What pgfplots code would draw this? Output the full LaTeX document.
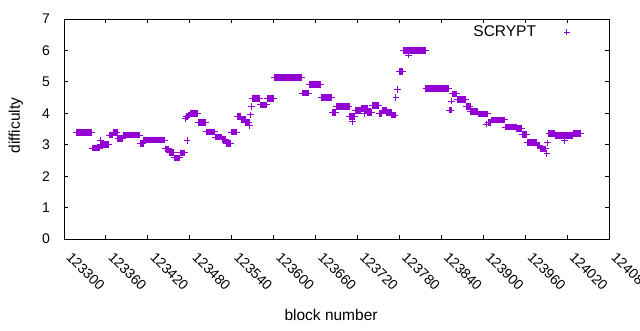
\documentclass[border=0pt]{standalone}
\usepackage{fontspec}
\setmainfont{Liberation Sans}
\usepackage{pgfplots}
\pgfplotsset{compat=1.18}
\definecolor{gpviolet}{RGB}{148,0,211}
\newcommand{\gpf}{\fontsize{14}{16}\selectfont}
\newcommand{\gpl}{\fontsize{15.5}{18}\selectfont}
\begin{document}
\begin{tikzpicture}
\path[use as bounding box] (-64pt,-91pt) rectangle (576pt,239pt);
\begin{axis}[
  at={(0pt,0pt)}, anchor=south west,
  scale only axis, width=545pt, height=220pt,
  xmin=123300, xmax=124080, ymin=0, ymax=7,
  xtick={123300,123360,123420,123480,123540,123600,123660,123720,123780,123840,123900,123960,124020,124080},
  xticklabels={123300,123360,123420,123480,123540,123600,123660,123720,123780,123840,123900,123960,124020,124080},
  ytick={0,1,2,3,4,5,6,7},
  scaled x ticks=false,
  /pgf/number format/assume math mode=true,
  tick align=inside, tick pos=both, major tick length=4pt,
  axis line style={line width=0.9pt},
  every tick/.style={black, line width=0.9pt},
  xticklabel style={font=\gpf, inner sep=0pt, anchor=west, xshift=5pt, yshift=-15.5pt, rotate=-45},
  yticklabel style={font=\gpf, inner sep=0pt, anchor=east, xshift=-14pt},
  xlabel={block number}, ylabel={difficulty},
  every axis x label/.style={at={(axis description cs:0.49,-0.3455)}, anchor=center, font=\gpl},
  every axis y label/.style={at={(axis description cs:-0.0881,0.515)}, rotate=90, anchor=center, font=\gpl},
  legend style={draw=none, fill=none, at={(axis description cs:0.9435,0.941)}, anchor=east, inner sep=0pt, font=\gpl},
  legend plot pos=right,
  legend image code/.code={\path[draw=none,fill=none] (0pt,0pt) -- (40pt,0pt); \draw plot coordinates {(28.8pt,0pt)};},
]
\addplot[only marks, mark=+, mark size=3.3pt, color=gpviolet, mark options={line width=0.9pt}] coordinates {
(123318,3.39)(123319,3.39)(123320,3.39)(123321,3.39)(123322,3.39)(123323,3.39)(123324,3.39)(123325,3.39)(123326,3.39)(123327,3.39)(123328,3.39)(123329,3.39)
(123330,3.39)(123331,3.39)(123332,3.39)(123333,3.39)(123334,3.39)(123335,3.39)(123336,3.39)(123337,3.39)(123338,3.39)(123339,3.39)(123340,3.39)
(123341,2.89)(123342,2.89)(123343,2.89)(123344,2.89)(123345,2.89)(123346,2.89)(123347,2.89)(123348,2.89)(123349,2.89)(123350,2.89)(123351,2.89)
(123352,3.14)
(123352,3.01)(123353,3.01)(123354,3.01)(123355,3.01)(123356,3.01)(123357,3.01)(123358,3.01)(123359,3.01)(123360,3.01)(123361,3.01)(123362,3.01)(123363,3.01)(123364,3.01)
(123365,3.31)(123366,3.31)(123367,3.31)(123368,3.31)(123369,3.31)(123370,3.31)
(123371,3.38)(123372,3.38)(123373,3.38)(123374,3.38)(123375,3.38)(123376,3.38)
(123377,3.20)(123378,3.20)(123379,3.20)(123380,3.20)(123381,3.20)(123382,3.20)(123383,3.20)(123384,3.20)
(123385,3.31)(123386,3.31)(123387,3.31)(123388,3.31)(123389,3.31)(123390,3.31)(123391,3.31)(123392,3.31)(123393,3.31)(123394,3.31)(123395,3.31)(123396,3.31)
(123397,3.31)(123398,3.31)(123399,3.31)(123400,3.31)(123401,3.31)(123402,3.31)(123403,3.31)(123404,3.31)(123405,3.31)(123406,3.31)(123407,3.31)(123408,3.31)
(123409,3.04)(123410,3.04)(123411,3.04)(123412,3.04)(123413,3.04)
(123414,3.15)(123415,3.15)(123416,3.15)(123417,3.15)(123418,3.15)(123419,3.15)(123420,3.15)(123421,3.15)(123422,3.15)(123423,3.15)(123424,3.15)
(123425,3.15)(123426,3.15)(123427,3.15)(123428,3.15)(123429,3.15)(123430,3.15)(123431,3.15)(123432,3.15)(123433,3.15)(123434,3.15)(123435,3.15)
(123436,3.15)(123437,3.15)(123438,3.15)(123439,3.15)(123440,3.15)(123441,3.15)(123442,3.15)(123443,3.15)(123444,3.15)
(123445,2.87)(123446,2.87)(123447,2.87)(123448,2.87)(123449,2.87)(123450,2.87)
(123451,2.76)(123452,2.76)(123453,2.76)(123454,2.76)(123455,2.76)(123456,2.76)(123457,2.76)
(123458,2.58)(123459,2.58)(123460,2.58)(123461,2.58)(123462,2.58)(123463,2.58)(123464,2.58)(123465,2.58)
(123466,2.74)(123467,2.74)(123468,2.74)(123469,2.74)(123470,2.74)(123471,2.74)(123472,2.74)(123473,2.74)
(123474,3.82)(123475,3.90)(123476,3.90)(123477,3.90)(123476,3.14)(123478,3.94)(123479,3.94)(123480,3.94)
(123481,3.99)(123482,3.99)(123483,3.99)(123484,3.99)(123485,3.99)(123486,3.99)(123487,3.99)(123488,3.99)(123489,3.99)(123490,3.99)(123491,3.99)
(123492,3.71)(123493,3.71)(123494,3.71)(123495,3.71)(123496,3.71)(123497,3.71)(123498,3.71)(123499,3.71)(123500,3.71)(123501,3.71)(123502,3.71)(123503,3.71)
(123504,3.41)(123505,3.41)(123506,3.41)(123507,3.41)(123508,3.41)(123509,3.41)(123510,3.41)(123511,3.41)(123512,3.41)(123513,3.41)(123514,3.41)(123515,3.41)(123516,3.41)
(123517,3.24)(123518,3.24)(123519,3.24)(123520,3.24)(123521,3.24)(123522,3.24)(123523,3.24)(123524,3.24)(123525,3.24)(123526,3.24)
(123527,3.17)(123528,3.17)(123529,3.17)(123530,3.17)(123531,3.17)
(123532,3.04)(123533,3.04)(123534,3.04)(123535,3.04)(123536,3.04)(123537,3.04)(123538,3.04)
(123539,3.40)(123540,3.40)(123541,3.40)(123542,3.40)(123543,3.40)(123544,3.40)(123545,3.40)(123546,3.40)(123547,3.40)
(123548,3.90)(123549,3.90)(123550,3.90)(123551,3.90)(123552,3.90)(123553,3.90)
(123554,3.80)(123555,3.80)(123556,3.80)(123557,3.80)(123558,3.80)(123559,3.80)
(123560,3.70)(123561,3.70)(123562,3.70)(123563,3.70)(123564,3.70)(123565,3.70)
(123566,3.62)(123567,3.95)(123568,4.22)
(123569,4.48)(123570,4.48)(123571,4.48)(123572,4.48)(123573,4.48)(123574,4.48)(123575,4.48)(123576,4.48)(123577,4.48)(123578,4.48)(123579,4.48)(123580,4.48)
(123581,4.27)(123582,4.27)(123583,4.27)(123584,4.27)(123585,4.27)(123586,4.27)(123587,4.27)(123588,4.27)(123589,4.27)(123590,4.27)
(123591,4.48)(123592,4.48)(123593,4.48)(123594,4.48)(123595,4.48)(123596,4.48)(123597,4.48)(123598,4.48)(123599,4.48)(123600,4.48)
(123601,5.14)(123602,5.14)(123603,5.14)(123604,5.14)(123605,5.14)(123606,5.14)(123607,5.14)(123608,5.14)(123609,5.14)(123610,5.14)
(123611,5.14)(123612,5.14)(123613,5.14)(123614,5.14)(123615,5.14)(123616,5.14)(123617,5.14)(123618,5.14)(123619,5.14)(123620,5.14)
(123621,5.14)(123622,5.14)(123623,5.14)(123624,5.14)(123625,5.14)(123626,5.14)(123627,5.14)(123628,5.14)(123629,5.14)(123630,5.14)
(123631,5.14)(123632,5.14)(123633,5.14)(123634,5.14)(123635,5.14)(123636,5.14)(123637,5.14)(123638,5.14)(123639,5.14)(123640,5.14)
(123641,4.64)(123642,4.64)(123643,4.64)(123644,4.64)(123645,4.64)(123646,4.64)(123647,4.64)(123648,4.64)(123649,4.64)(123650,4.64)
(123651,4.92)(123652,4.92)(123653,4.92)(123654,4.92)(123655,4.92)(123656,4.92)(123657,4.92)(123658,4.92)(123659,4.92)
(123660,4.92)(123661,4.92)(123662,4.92)(123663,4.92)(123664,4.92)(123665,4.92)(123666,4.92)(123667,4.92)
(123668,4.51)(123669,4.51)(123670,4.51)(123671,4.51)(123672,4.51)(123673,4.51)(123674,4.51)(123675,4.51)
(123676,4.51)(123677,4.51)(123678,4.51)(123679,4.51)(123680,4.51)(123681,4.51)(123682,4.51)(123683,4.51)
(123684,4.03)(123685,4.03)(123686,4.03)(123687,4.03)(123688,4.03)(123689,4.03)
(123690,4.21)(123691,4.21)(123692,4.21)(123693,4.21)(123694,4.21)(123695,4.21)(123696,4.21)(123697,4.21)(123698,4.21)(123699,4.21)
(123700,4.21)(123701,4.21)(123702,4.21)(123703,4.21)(123704,4.21)(123705,4.21)(123706,4.21)(123707,4.21)(123708,4.21)
(123709,3.89)(123710,3.89)(123711,3.89)(123712,3.89)(123713,3.89)(123713,3.73)(123714,3.89)(123715,3.89)(123716,3.89)
(123717,4.09)(123718,4.09)(123719,4.09)(123720,4.09)(123721,4.09)(123722,4.09)(123723,4.09)(123724,4.09)
(123725,4.16)(123726,4.16)(123727,4.16)(123728,4.16)(123729,4.16)(123730,4.16)(123730,4.00)(123731,4.16)(123732,4.16)(123733,4.16)(123734,4.16)
(123735,4.02)(123736,4.02)(123737,4.02)(123738,4.02)(123739,4.02)(123740,4.02)
(123741,4.25)(123742,4.25)(123743,4.25)(123744,4.25)(123745,4.25)(123746,4.25)(123747,4.25)(123748,4.25)(123749,4.25)(123750,4.25)
(123751,4.00)(123752,4.00)(123753,4.00)(123754,4.00)(123755,4.00)
(123756,4.09)(123757,4.09)(123758,4.09)(123759,4.09)(123760,4.09)(123761,4.09)
(123762,4.03)(123763,4.03)(123764,4.03)(123765,4.03)(123766,4.03)(123767,4.03)(123768,4.03)
(123769,3.94)(123770,3.94)(123771,3.94)(123772,3.94)(123773,3.94)(123774,3.94)
(123775,4.51)(123777,4.76)
(123780,5.33)(123781,5.33)(123782,5.33)(123783,5.33)(123784,5.33)(123785,5.33)
(123786,5.99)(123787,5.99)(123788,5.99)(123789,5.99)(123790,5.99)(123791,5.99)(123792,5.99)(123793,5.99)(123793,5.85)(123794,5.99)(123795,5.99)
(123796,5.99)(123797,5.99)(123798,5.99)(123799,5.99)(123800,5.99)(123801,5.99)(123802,5.99)(123803,5.99)(123804,5.99)(123805,5.99)
(123806,5.99)(123807,5.99)(123808,5.99)(123809,5.99)(123810,5.99)(123811,5.99)(123812,5.99)(123813,5.99)(123814,5.99)(123815,5.99)(123816,5.99)(123817,5.99)
(123818,4.79)(123819,4.79)(123820,4.79)(123821,4.79)(123822,4.79)(123823,4.79)(123824,4.79)(123825,4.79)(123826,4.79)(123827,4.79)(123828,4.79)
(123829,4.79)(123830,4.79)(123831,4.79)(123832,4.79)(123833,4.79)(123834,4.79)(123835,4.79)(123836,4.79)(123837,4.79)(123838,4.79)(123839,4.79)
(123840,4.79)(123841,4.79)(123842,4.79)(123843,4.79)(123844,4.79)(123845,4.79)(123846,4.79)(123847,4.79)(123848,4.79)(123849,4.79)(123850,4.79)
(123851,4.10)(123852,4.10)(123853,4.10)(123854,4.10)(123855,4.39)
(123856,4.62)(123857,4.62)(123858,4.62)(123859,4.62)(123860,4.62)(123861,4.62)(123862,4.62)
(123863,4.44)(123864,4.44)(123865,4.44)(123866,4.44)(123867,4.44)(123868,4.44)(123869,4.44)(123870,4.44)(123871,4.44)(123872,4.44)(123873,4.44)(123874,4.44)(123875,4.44)
(123876,4.22)(123877,4.22)(123878,4.22)(123879,4.22)(123880,4.22)(123881,4.22)
(123882,4.06)(123883,4.06)(123884,4.06)(123885,4.06)(123886,4.06)(123887,4.06)(123888,4.06)(123889,4.06)(123890,4.06)(123891,4.06)(123892,4.06)
(123893,3.98)(123894,3.98)(123895,3.98)(123896,3.98)(123897,3.98)(123898,3.98)(123899,3.98)(123900,3.98)(123901,3.98)(123902,3.98)(123903,3.98)(123904,3.98)(123904,3.66)(123905,3.98)(123906,3.98)
(123907,3.71)(123908,3.71)(123909,3.71)(123910,3.71)(123911,3.71)
(123912,3.79)(123913,3.79)(123914,3.79)(123915,3.79)(123916,3.79)(123917,3.79)(123918,3.79)(123919,3.79)(123920,3.79)(123921,3.79)
(123922,3.79)(123923,3.79)(123924,3.79)(123925,3.79)(123926,3.79)(123927,3.79)(123928,3.79)(123929,3.79)(123930,3.79)(123931,3.79)
(123932,3.56)(123933,3.56)(123934,3.56)(123935,3.56)(123936,3.56)(123937,3.56)(123938,3.56)(123939,3.56)
(123940,3.56)(123941,3.56)(123942,3.56)(123943,3.56)(123944,3.56)(123945,3.56)(123946,3.56)(123947,3.56)
(123948,3.51)(123949,3.51)(123950,3.51)(123951,3.51)(123952,3.51)(123953,3.51)(123954,3.51)(123955,3.51)
(123956,3.33)(123957,3.33)(123958,3.33)(123959,3.33)(123960,3.33)(123961,3.33)(123962,3.33)
(123963,3.08)(123964,3.08)(123965,3.08)(123966,3.08)(123967,3.08)(123968,3.08)(123969,3.08)(123970,3.08)(123971,3.08)(123972,3.08)(123973,3.08)(123974,3.08)(123975,3.08)(123976,3.08)
(123977,2.98)(123978,2.98)(123979,2.98)(123980,2.98)(123981,2.98)
(123982,2.87)(123983,2.87)(123984,2.87)(123985,2.87)(123986,2.87)(123987,2.87)(123988,2.87)(123989,2.87)
(123991,2.73)(123992,3.06)
(123994,3.36)(123995,3.36)(123996,3.36)(123997,3.36)(123998,3.36)(123999,3.36)(124000,3.36)(124001,3.36)(124002,3.36)
(124003,3.30)(124004,3.30)(124005,3.30)(124006,3.30)(124007,3.30)(124008,3.30)(124009,3.30)
(124010,3.29)(124011,3.29)(124012,3.29)(124013,3.29)(124014,3.29)(124015,3.29)(124016,3.29)(124016,3.13)(124017,3.29)(124018,3.29)(124019,3.29)
(124020,3.29)(124021,3.29)(124022,3.29)(124023,3.29)(124024,3.29)(124025,3.29)(124026,3.29)(124027,3.29)(124028,3.29)
(124029,3.35)(124030,3.35)(124031,3.35)(124032,3.35)(124033,3.35)(124034,3.35)(124035,3.35)(124036,3.35)(124037,3.35)(124038,3.35)(124039,3.35)
};
\addlegendentry{SCRYPT}
\end{axis}
\end{tikzpicture}
\end{document}
